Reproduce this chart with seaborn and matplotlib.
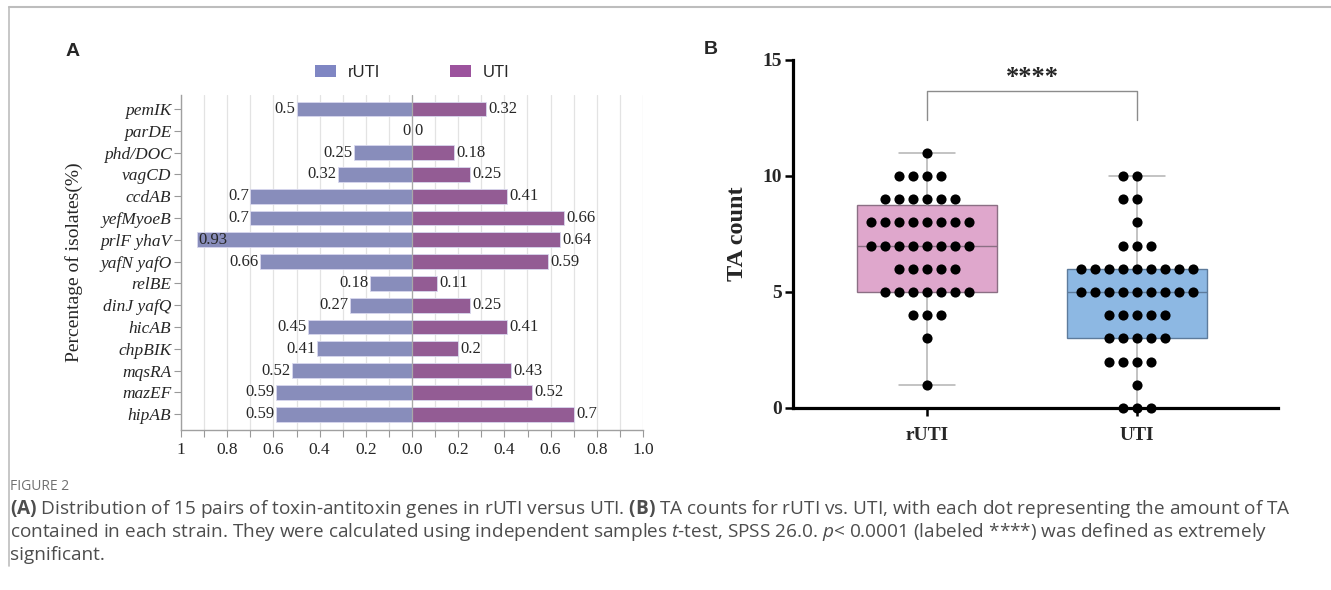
import numpy as np
import pandas as pd
import matplotlib
matplotlib.use("Agg")
import matplotlib.pyplot as plt
from matplotlib.lines import Line2D
from matplotlib.patches import Patch
from matplotlib.ticker import MultipleLocator
import seaborn as sns

# Panel A: share of isolates carrying each toxin-antitoxin pair
genes = ["pemIK", "parDE", "phd/DOC", "vagCD", "ccdAB", "yefMyoeB", "prlF yhaV",
         "yafN yafO", "relBE", "dinJ yafQ", "hicAB", "chpBIK", "mqsRA", "mazEF", "hipAB"]
rUTI_pct = [0.5, 0, 0.25, 0.32, 0.7, 0.7, 0.93, 0.66, 0.18, 0.27, 0.45, 0.41, 0.52, 0.59, 0.59]
UTI_pct = [0.32, 0, 0.18, 0.25, 0.41, 0.66, 0.64, 0.59, 0.11, 0.25, 0.41, 0.2, 0.43, 0.52, 0.7]
pct_ticks = [-1, -0.8, -0.6, -0.4, -0.2, 0, 0.2, 0.4, 0.6, 0.8, 1.0]
pct_ticklabels = ["1", "0.8", "0.6", "0.4", "0.2", "0.0", "0.2", "0.4", "0.6", "0.8", "1.0"]

# Panel B: TA count per strain (value -> number of strains)
ta_values = [0, 1, 2, 3, 4, 5, 6, 7, 8, 9, 10, 11]
rUTI_n = [0, 1, 0, 1, 3, 7, 5, 8, 8, 6, 4, 1]
UTI_n = [3, 1, 4, 5, 5, 9, 9, 3, 1, 2, 2, 0]
groups = ["rUTI", "UTI"]

caption_lines = [
    r"$\mathbf{(A)}$ Distribution of 15 pairs of toxin-antitoxin genes in rUTI versus UTI. "
    r"$\mathbf{(B)}$ TA counts for rUTI vs. UTI, with each dot representing the amount of TA",
    r"contained in each strain. They were calculated using independent samples $\mathit{t}$-test, "
    r"SPSS 26.0. $\mathit{p}$< 0.0001 (labeled ****) was defined as extremely",
    "significant.",
]

sns.set_style("white")
plt.rcParams["font.family"] = ["Liberation Serif", "DejaVu Serif"]
plt.rcParams["mathtext.fontset"] = "custom"
plt.rcParams["mathtext.rm"] = "Open Sans"
plt.rcParams["mathtext.bf"] = "Open Sans:bold"
plt.rcParams["mathtext.it"] = "Open Sans:italic"

bar_colors = {"rUTI": "#7f86c3", "UTI": "#9c539d"}

fig = plt.figure(figsize=(13.31, 5.9), dpi=100)

# ---------------- panel A ----------------
axA = fig.add_axes([181 / 1331, 1 - 430 / 590, (643 - 181) / 1331, (430 - 95) / 590])

dfA = pd.DataFrame({
    "gene": genes * 2,
    "value": [-v for v in rUTI_pct] + UTI_pct,
    "group": ["rUTI"] * len(genes) + ["UTI"] * len(genes),
})
sns.barplot(data=dfA, y="gene", x="value", hue="group", order=genes,
            palette=bar_colors, dodge=False, width=0.68, orient="h",
            edgecolor="#d8d8ee", linewidth=0.6, ax=axA, legend=False, zorder=3)

axA.set_xlim(-1, 1)
axA.set_ylim(len(genes) - 0.28, -0.64)
axA.xaxis.set_minor_locator(MultipleLocator(0.1))
axA.set_xticks(pct_ticks)
axA.set_xticklabels(pct_ticklabels, fontsize=12.5)
axA.grid(False)
for xv in np.arange(-1, 1.01, 0.1):
    axA.axvline(xv, color="#e3e3e3", lw=0.9, zorder=0)
axA.axvline(0, color="#a8a8a8", lw=0.9, zorder=4)
axA.tick_params(axis="x", which="both", direction="out", length=5, width=0.8,
                color="#999999", pad=4, bottom=True)
axA.tick_params(axis="y", direction="out", length=5, width=0.8, color="#999999",
                left=True, pad=2)
for lab in axA.get_yticklabels():
    lab.set_fontstyle("italic")
    lab.set_fontsize(12.5)
for s in ["top", "right"]:
    axA.spines[s].set_visible(False)
for s in ["left", "bottom"]:
    axA.spines[s].set_color("#a0a0a0")
    axA.spines[s].set_linewidth(1.0)
axA.set_xlabel("")
axA.set_ylabel("Percentage of isolates(%)", fontsize=14, labelpad=12)

for i, (a, b) in enumerate(zip(rUTI_pct, UTI_pct)):
    if a > 0.85:
        axA.text(-a + 0.005, i, f"{a:g}", ha="left", va="center", fontsize=12, zorder=5)
    else:
        axA.text(-a - 0.006, i, f"{a:g}", ha="right", va="center", fontsize=12, zorder=5)
    axA.text(b + 0.01, i, f"{b:g}", ha="left", va="center", fontsize=12, zorder=5)

handles = [Patch(facecolor=bar_colors[g], edgecolor="none") for g in groups]
axA.legend(handles, groups, ncol=2, loc="lower center", bbox_to_anchor=(0.5, 1.0),
           frameon=False, handlelength=1.25, handleheight=0.75, handletextpad=0.7,
           columnspacing=4.2, prop={"family": "Liberation Sans", "size": 12})

fig.text(73 / 1331, 1 - 52 / 590, "A", fontsize=14, fontweight="bold",
         family="Liberation Sans", ha="center", va="center")

# ---------------- panel B ----------------
axB = fig.add_axes([793 / 1331, 1 - 408 / 590, (1278 - 793) / 1331, (408 - 60) / 590])

rUTI_counts = np.repeat(ta_values, rUTI_n)
UTI_counts = np.repeat(ta_values, UTI_n)
dfB = pd.DataFrame({
    "group": ["rUTI"] * len(rUTI_counts) + ["UTI"] * len(UTI_counts),
    "count": np.concatenate([rUTI_counts, UTI_counts]),
})


def box_stats(vals):
    # quartiles as GraphPad computes them
    q1, med, q3 = np.percentile(vals, [25, 50, 75], method="weibull")
    return dict(med=med, q1=q1, q3=q3, whislo=vals.min(), whishi=vals.max(), fliers=[])


sns.swarmplot(data=dfB, x="group", y="count", order=groups, color="black",
              size=7.3, linewidth=2.3, edgecolor=(0, 0, 0, 0), ax=axB,
              zorder=4, clip_on=False)

bp = axB.bxp([box_stats(rUTI_counts), box_stats(UTI_counts)], positions=[0, 1],
             widths=0.667, capwidths=0.27, patch_artist=True, showfliers=False,
             manage_ticks=False,
             whiskerprops=dict(color="#b3b3b3", lw=1.1),
             capprops=dict(color="#b3b3b3", lw=1.1),
             medianprops=dict(lw=1.0), boxprops=dict(lw=1.0))
box_face = ["#dfa7cc", "#8db8e3"]
box_edge = ["#8b6f84", "#5d7b9c"]
for i, box in enumerate(bp["boxes"]):
    box.set_facecolor(box_face[i])
    box.set_edgecolor(box_edge[i])
    bp["medians"][i].set_color(box_edge[i])

axB.set_xlim(-0.638, 1.671)
axB.set_ylim(0, 15)
axB.set_yticks([0, 5, 10, 15])
axB.set_xticks([0, 1])
axB.set_xticklabels(groups)
axB.grid(False)
for s in ["top", "right"]:
    axB.spines[s].set_visible(False)
for s in ["left", "bottom"]:
    axB.spines[s].set_color("black")
    axB.spines[s].set_linewidth(2.3)
axB.tick_params(axis="both", direction="out", length=6, width=1.8, color="black",
                left=True, bottom=True)
axB.tick_params(axis="y", pad=2)
axB.tick_params(axis="x", pad=8)
for lab in axB.get_xticklabels() + axB.get_yticklabels():
    lab.set_fontweight("bold")
    lab.set_fontsize(14)
axB.set_xlabel("")
axB.set_ylabel("TA count", fontsize=17.5, fontweight="bold", labelpad=10)

# significance bracket
axB.plot([0, 0, 1, 1], [12.4, 13.65, 13.65, 12.4], color="#8c8c8c", lw=1.0, clip_on=False)
axB.text(0.5, 13.75, "****", ha="center", va="bottom", fontsize=19, fontweight="bold")

fig.text(711 / 1331, 1 - 50 / 590, "B", fontsize=14, fontweight="bold",
         family="Liberation Sans", ha="center", va="center")

# ---------------- page frame and caption ----------------
fig.add_artist(Line2D([9 / 1331, 1], [1 - 7 / 590, 1 - 7 / 590], color="#bdbdbd", lw=1.5))
fig.add_artist(Line2D([9 / 1331, 9 / 1331], [1 - 7 / 590, 1 - 566 / 590], color="#bdbdbd", lw=1.2))

fig.text(10 / 1331, 1 - 487 / 590, "FIGURE 2", fontsize=10, color="#707070",
         family="Open Sans", ha="left", va="center")
cap_texts = []
for k, line in enumerate(caption_lines):
    cap_texts.append(fig.text(10 / 1331, 1 - (509 + 23 * k) / 590, line, fontsize=12,
                              color="#4d4d4d", family="Open Sans", ha="left", va="center"))

# scale the caption so the first line spans the same width as in the source figure
renderer = fig.canvas.get_renderer()
w = cap_texts[0].get_window_extent(renderer).width
for t in cap_texts:
    t.set_fontsize(12 * 1277 / w)

fig.savefig("out.png", dpi=100)
